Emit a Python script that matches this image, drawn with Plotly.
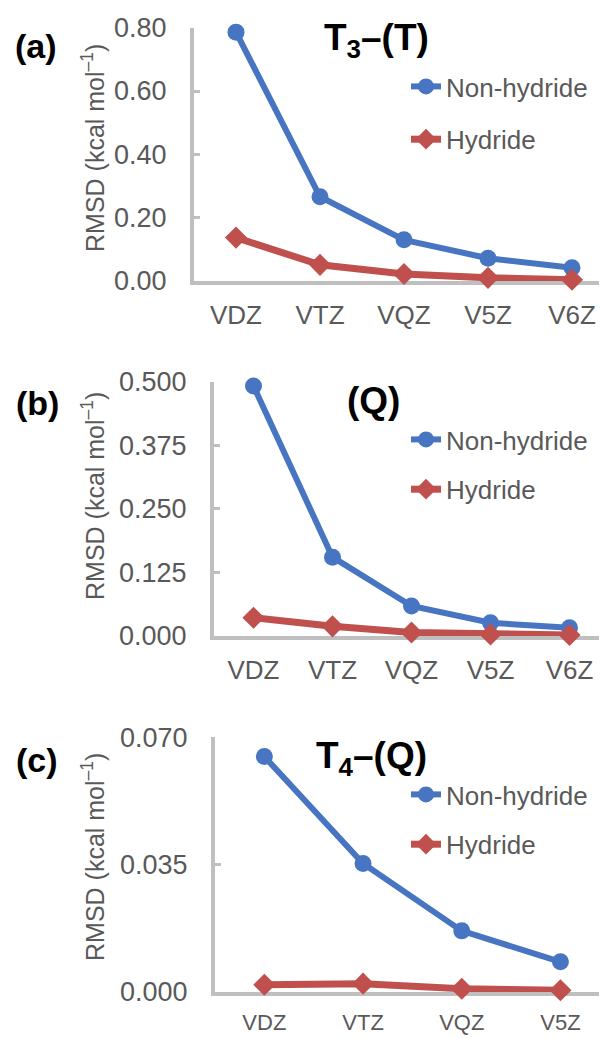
import plotly.graph_objects as go

W, H = 607, 1038
OX, OY = 8, 8  # page body margin compensation

cats5 = ["VDZ", "VTZ", "VQZ", "V5Z", "V6Z"]
cats4 = ["VDZ", "VTZ", "VQZ", "V5Z"]

a_non = [0.786, 0.266, 0.130, 0.072, 0.042]
a_hyd = [0.137, 0.051, 0.022, 0.010, 0.004]
b_non = [0.4915, 0.155, 0.059, 0.026, 0.016]
b_hyd = [0.036, 0.019, 0.007, 0.003, 0.002]
c_non = [0.0647, 0.0353, 0.0168, 0.0083]
c_hyd = [0.0020, 0.0023, 0.0009, 0.0005]

a_ticks = [0.0, 0.2, 0.4, 0.6, 0.8]
b_ticks = [0.0, 0.125, 0.25, 0.375, 0.5]
c_ticks = [0.0, 0.035, 0.07]

panel_labels = ["(a)", "(b)", "(c)"]
panel_titles = ["T<sub>3</sub>–(T)", "(Q)", "T<sub>4</sub>–(Q)"]
ytitle = "RMSD (kcal mol<sup>–1</sup>)"

BLUE = "#4775C2"
RED = "#C0504D"
AXC = "#BFBFBF"
TXT = "#595959"
FONT = "Arial, Liberation Sans, sans-serif"

def px_x(p):
    return (p - OX) / W

def px_y(p):
    return 1 - (p - OY) / H

fig = go.Figure()

panels = [
    dict(cats=cats5, non=a_non, hyd=a_hyd, ticks=a_ticks, fmt=".2f", ax0=194, dx=84, y0=281, y1=27.7, ymax=0.8, tfs=26, so=8),
    dict(cats=cats5, non=b_non, hyd=b_hyd, ticks=b_ticks, fmt=".3f", ax0=214, dx=79, y0=636, y1=381.7, ymax=0.5, tfs=26, so=8),
    dict(cats=cats4, non=c_non, hyd=c_hyd, ticks=c_ticks, fmt=".3f", ax0=215, dx=98.7, y0=992, y1=737.3, ymax=0.07, tfs=22, so=8),
]

legend_tops = [63, 416, 771]
legend_gaps = [16, 13, 13]
title_pos = [(376, 40), (373, 400), (371, 758)]
label_pos = [(36, 46), (37, 403), (37, 760)]
ytitle_y = [148, 496, 857]

layout = dict(width=W, height=H, autosize=False, margin=dict(l=0, r=0, t=0, b=0, pad=0, autoexpand=False),
              template="none",
              paper_bgcolor="white", plot_bgcolor="white",
              font=dict(family=FONT, color=TXT), showlegend=True)
annotations = []

for i, p in enumerate(panels):
    n = "" if i == 0 else str(i + 1)
    xa, ya = "x" + n, "y" + n
    lg = "legend" + n
    fig.add_trace(go.Scatter(x=p["cats"], y=p["non"], xaxis=xa, yaxis=ya, name="Non-hydride",
                             mode="lines+markers", legend=lg, legendgroup="n" + n,
                             line=dict(color=BLUE, width=6),
                             marker=dict(symbol="circle", size=17, color=BLUE),
                             cliponaxis=False))
    fig.add_trace(go.Scatter(x=p["cats"], y=p["hyd"], xaxis=xa, yaxis=ya, name="Hydride",
                             mode="lines+markers", legend=lg, legendgroup="h" + n,
                             line=dict(color=RED, width=7),
                             marker=dict(symbol="diamond", size=17, color=RED),
                             cliponaxis=False))
    xmax = (W + OX - p["ax0"]) / p["dx"] - 0.5
    layout["xaxis" + n] = dict(domain=[px_x(p["ax0"]), 1], anchor=ya, type="category",
                               range=[-0.5, xmax], showline=True, linecolor=AXC, linewidth=4,
                               showgrid=False, zeroline=False, ticks="", layer="below traces",
                               automargin=False,
                               tickfont=dict(size=p["tfs"], color=TXT, family=FONT),
                               ticklabelstandoff=p["so"])
    layout["yaxis" + n] = dict(domain=[px_y(p["y0"]), px_y(p["y1"])], anchor=xa,
                               range=[0, p["ymax"]], tickvals=p["ticks"], tickformat=p["fmt"],
                               showline=True, linecolor=AXC, linewidth=4, showgrid=False,
                               zeroline=False, ticks="inside", ticklen=6, tickwidth=3,
                               tickcolor=AXC, layer="below traces", automargin=False,
                               tickfont=dict(size=27, color=TXT, family=FONT),
                               ticklabelstandoff=18)
    layout[lg] = dict(x=px_x(406), y=px_y(legend_tops[i]), xanchor="left", yanchor="top",
                      bgcolor="rgba(0,0,0,0)", font=dict(size=26, color=TXT, family=FONT),
                      tracegroupgap=legend_gaps[i], itemsizing="trace", borderwidth=0)
    tx, ty = title_pos[i]
    annotations.append(dict(text=panel_titles[i], x=px_x(tx), y=px_y(ty), xref="paper", yref="paper",
                            xanchor="center", yanchor="middle", showarrow=False,
                            font=dict(size=37, color="black", family=FONT, weight="bold")))
    lx, ly = label_pos[i]
    annotations.append(dict(text="<b>" + panel_labels[i] + "</b>", x=px_x(lx), y=px_y(ly), xref="paper", yref="paper",
                            xanchor="center", yanchor="middle", showarrow=False,
                            font=dict(size=34, color="black", family=FONT)))
    annotations.append(dict(text=ytitle, x=px_x(93), y=px_y(ytitle_y[i]), xref="paper", yref="paper",
                            xanchor="center", yanchor="middle", textangle=-90, showarrow=False,
                            font=dict(size=25, color=TXT, family=FONT)))

layout["annotations"] = annotations
fig.update_layout(**layout)
fig.write_html("out.html")
